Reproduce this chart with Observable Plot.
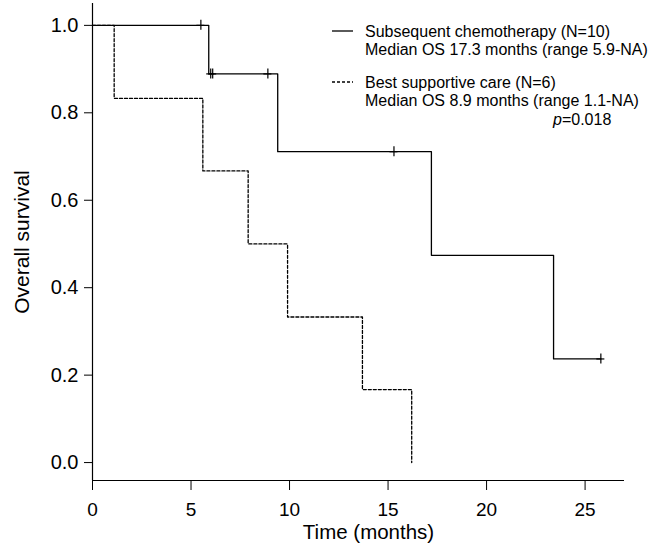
<!DOCTYPE html>
<html><head><meta charset="utf-8">
<script src="https://cdn.jsdelivr.net/npm/d3@7"></script>
<script src="https://cdn.jsdelivr.net/npm/@observablehq/plot@0.6"></script>
<style>
body{margin:0;background:#fff}
</style>
</head><body><div id="chart"></div>
<script>
// Subsequent chemotherapy (solid)
const chemoTime = [0, 5.9, 9.4, 17.2, 23.4, 25.8];
const chemoSurv = [1.0, 0.889, 0.711, 0.474, 0.237, 0.237];
const chemoCensorTime = [5.5, 6.0, 6.1, 8.9, 15.3, 25.8];
const chemoCensorSurv = [1.0, 0.889, 0.889, 0.889, 0.711, 0.237];
// Best supportive care (dashed)
const bscTime = [0, 1.1, 5.6, 7.9, 9.9, 13.7, 16.2];
const bscSurv = [1.0, 0.833, 0.667, 0.5, 0.333, 0.167, 0.0];
// ticks
const xTicks = [0, 5, 10, 15, 20, 25];
const yTicks = [0, 0.2, 0.4, 0.6, 0.8, 1.0];
// texts
const xTitle = "Time (months)";
const yTitle = "Overall survival";
const legendChemo = ["Subsequent chemotherapy (N=10)", "Median OS 17.3 months (range 5.9-NA)"];
const legendBsc = ["Best supportive care (N=6)", "Median OS 8.9 months (range 1.1-NA)"];
const pValue = "0.018";

const chemo = chemoTime.map((t, i) => ({t, s: chemoSurv[i]}));
const chemoCens = chemoCensorTime.map((t, i) => ({t, s: chemoCensorSurv[i]}));
const bsc = bscTime.map((t, i) => ({t, s: bscSurv[i]}));

const FONT = "'Liberation Sans', Arial, sans-serif";
const W = 648, H = 548;
const chart = Plot.plot({
  width: W, height: H,
  style: {fontFamily: FONT, color: "#000", background: "#fff"},
  marginLeft: 92, marginRight: 24, marginTop: 3, marginBottom: 68,
  x: {domain: [0, 27]},
  y: {domain: [-0.041, 1.05]},
  marks: [
    Plot.ruleX([0], {y1: -0.041, y2: 1.05, stroke: "#000", strokeWidth: 1.2}),
    Plot.ruleY([-0.041], {x1: 0, x2: 27, stroke: "#000", strokeWidth: 1.2}),
    Plot.axisX(xTicks, {anchor: "bottom", tickSize: 10, tickPadding: 12, fontSize: 19, label: null, stroke: "#000"}),
    Plot.axisY(yTicks, {anchor: "left", tickSize: 8, tickPadding: 6, fontSize: 20, tickFormat: d3.format(".1f"), label: null}),
    Plot.text([xTitle], {frameAnchor: "bottom", textAnchor: "middle", dx: 10, dy: 58, fontSize: 20.5, fill: "#000"}),
    Plot.text([yTitle], {frameAnchor: "left", textAnchor: "middle", rotate: -90, dx: -70, dy: 0, fontSize: 21, fill: "#000"}),
    Plot.line(bsc, {x: "t", y: "s", curve: "step-after", stroke: "#000", strokeWidth: 1.3, strokeDasharray: "3,2"}),
    Plot.line(chemo, {x: "t", y: "s", curve: "step-after", stroke: "#000", strokeWidth: 1.3}),
    Plot.ruleX(chemoCens, {x: "t", y1: "s", y2: "s", insetTop: -5, insetBottom: -5, stroke: "#000", strokeWidth: 1.2}),
    Plot.ruleY(chemoCens, {y: "s", x1: "t", x2: "t", insetLeft: -4, insetRight: -4, stroke: "#000", strokeWidth: 1.2})
  ]
});
document.getElementById("chart").appendChild(chart);

// legend inside plot area
const svg = d3.select(chart);
const g = svg.append("g").attr("font-size", 16).attr("font-family", FONT)
  .attr("fill", "#000").attr("text-anchor", "start");
function legendEntry(lines, y0, dash) {
  g.append("line").attr("x1", 332).attr("x2", 353).attr("y1", y0).attr("y2", y0)
    .attr("stroke", "#000").attr("stroke-width", 1.3).attr("stroke-dasharray", dash);
  lines.forEach((txt, i) => {
    g.append("text").attr("x", 365).attr("y", y0 + i * 18.2).attr("dy", "0.35em").text(txt);
  });
}
legendEntry(legendChemo, 31, null);
legendEntry(legendBsc, 82, "3,2");
const pt = g.append("text").attr("x", 553).attr("y", 119.5).attr("dy", "0.35em");
pt.append("tspan").attr("font-style", "italic").text("p");
pt.append("tspan").text("=" + pValue);
</script>
</body></html>
